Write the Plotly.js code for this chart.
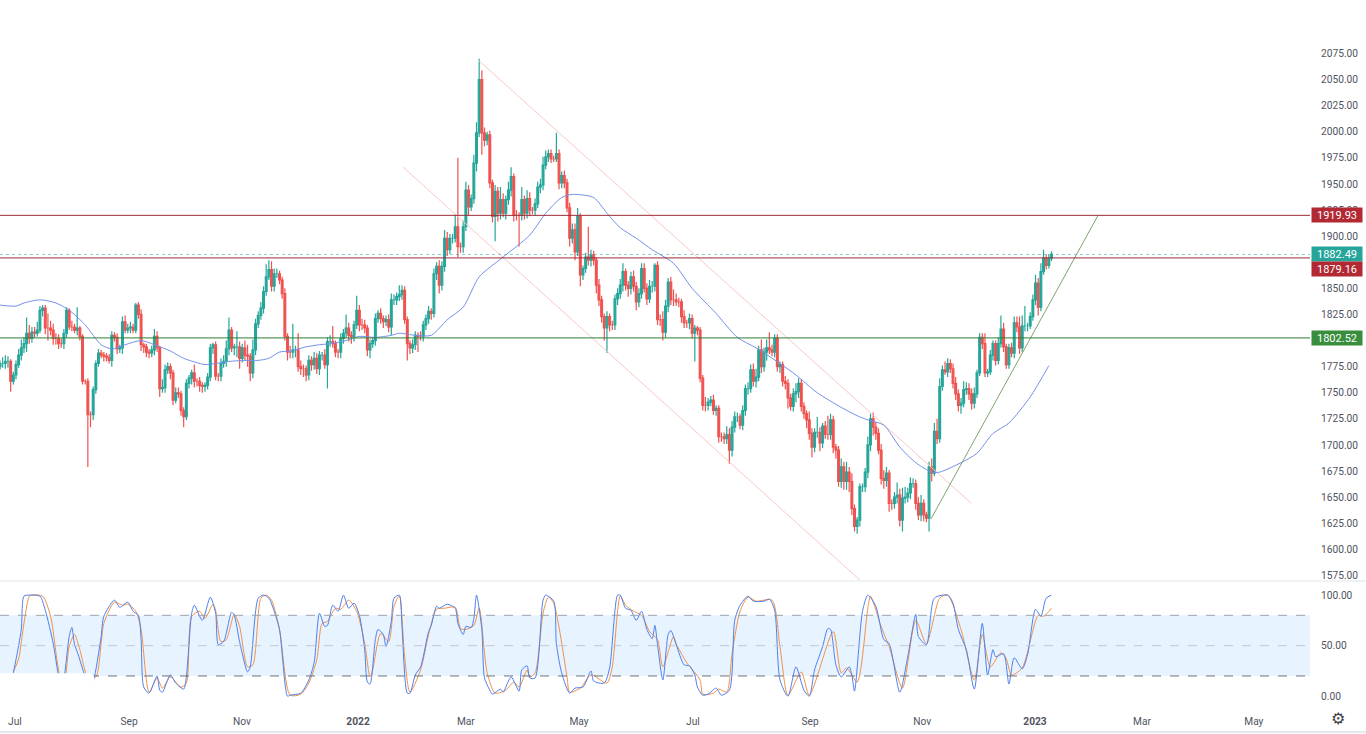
<!DOCTYPE html>
<html>
<head>
<meta charset="utf-8">
<script src="https://cdn.plot.ly/plotly-3.0.1.min.js"></script>
<style>html,body{margin:0;padding:0;background:#fff;overflow:hidden}#chart{width:1366px;height:734px}</style>
</head>
<body>
<div id="chart"></div>
<script>
const closes=[
1778,1778,1780,1780,1761,1767,1777,1786,1793,1797,1807,1802,1808,1807,1810,1829,1831,1812,1812,1810,
1802,1802,1797,1797,1807,1829,1813,1813,1810,1812,1804,1761,1761,1729,1729,1753,1778,1788,1786,1785,
1784,1781,1805,1803,1792,1793,1818,1810,1812,1813,1810,1834,1825,1796,1794,1789,1788,1791,1804,1793,
1754,1755,1772,1775,1769,1743,1750,1749,1733,1727,1759,1764,1769,1761,1761,1757,1756,1757,1765,1793,
1796,1766,1766,1778,1780,1792,1810,1793,1794,1794,1783,1793,1786,1785,1769,1791,1816,1824,1831,1847,
1861,1868,1852,1864,1864,1858,1845,1804,1789,1789,1791,1791,1775,1773,1773,1767,1781,1777,1783,1773,
1786,1786,1777,1799,1799,1797,1789,1789,1802,1807,1812,1805,1804,1815,1829,1815,1815,1812,1791,1797,
1800,1821,1826,1821,1818,1820,1813,1839,1839,1842,1844,1848,1820,1797,1793,1796,1805,1804,1804,1815,
1821,1828,1826,1864,1871,1853,1871,1898,1887,1898,1898,1909,1890,1890,1909,1944,1928,1936,1970,1999,
2050,1999,1992,1997,1951,1919,1943,1922,1935,1922,1935,1944,1957,1920,1920,1920,1935,1922,1936,1925,
1925,1931,1947,1949,1968,1976,1979,1974,1974,1979,1951,1958,1951,1927,1898,1906,1885,1919,1863,1869,
1880,1877,1882,1877,1853,1839,1823,1812,1823,1815,1815,1840,1845,1853,1866,1853,1850,1861,1852,1837,
1845,1869,1850,1840,1852,1852,1872,1820,1820,1808,1833,1856,1839,1839,1837,1837,1823,1817,1817,1821,
1807,1812,1810,1764,1738,1738,1741,1743,1733,1735,1708,1708,1706,1710,1695,1717,1727,1727,1719,1733,
1754,1754,1772,1761,1765,1791,1775,1789,1793,1791,1789,1802,1775,1777,1761,1759,1745,1737,1749,1751,
1759,1737,1730,1724,1711,1698,1712,1712,1702,1718,1710,1710,1724,1698,1695,1665,1679,1665,1674,1665,
1639,1622,1628,1660,1660,1674,1700,1725,1717,1711,1695,1668,1666,1673,1644,1644,1650,1652,1628,1649,
1650,1654,1663,1663,1644,1633,1644,1633,1630,1679,1673,1713,1706,1756,1772,1770,1778,1773,1759,1749,
1738,1740,1753,1754,1749,1740,1749,1769,1803,1797,1769,1770,1786,1797,1781,1797,1811,1794,1777,1793,
1788,1817,1813,1793,1814,1814,1814,1823,1839,1855,1832,1866,1879,1872,1879,1882.49];
const opens=[
1775,1778,1778,1780,1780,1761,1767,1777,1786,1793,1797,1807,1802,1808,1807,1810,1829,1831,1812,1812,
1810,1802,1802,1797,1797,1807,1829,1813,1813,1810,1812,1804,1761,1761,1729,1729,1753,1778,1788,1786,
1785,1784,1781,1805,1803,1792,1793,1818,1810,1812,1813,1810,1834,1825,1796,1794,1789,1788,1791,1804,
1793,1754,1755,1772,1775,1769,1743,1750,1749,1733,1727,1759,1764,1769,1761,1761,1757,1756,1757,1765,
1793,1796,1766,1766,1778,1780,1792,1810,1793,1794,1794,1783,1793,1786,1785,1769,1791,1816,1824,1831,
1847,1861,1868,1852,1864,1864,1858,1845,1804,1789,1789,1791,1791,1775,1773,1773,1767,1781,1777,1783,
1773,1786,1786,1777,1799,1799,1797,1789,1789,1802,1807,1812,1805,1804,1815,1829,1815,1815,1812,1791,
1797,1800,1821,1826,1821,1818,1820,1813,1839,1839,1842,1844,1848,1820,1797,1793,1796,1805,1804,1804,
1815,1821,1828,1826,1864,1871,1853,1871,1898,1887,1898,1898,1909,1890,1890,1909,1944,1928,1936,1970,
1999,2050,1999,1992,1997,1951,1919,1943,1922,1935,1922,1935,1944,1957,1920,1920,1920,1935,1922,1936,
1925,1925,1931,1947,1949,1968,1976,1979,1974,1974,1979,1951,1958,1951,1927,1898,1906,1885,1919,1863,
1869,1880,1877,1882,1877,1853,1839,1823,1812,1823,1815,1815,1840,1845,1853,1866,1853,1850,1861,1852,
1837,1845,1869,1850,1840,1852,1852,1872,1820,1820,1808,1833,1856,1839,1839,1837,1837,1823,1817,1817,
1821,1807,1812,1810,1764,1738,1738,1741,1743,1733,1735,1708,1708,1706,1710,1695,1717,1727,1727,1719,
1733,1754,1754,1772,1761,1765,1791,1775,1789,1793,1791,1789,1802,1775,1777,1761,1759,1745,1737,1749,
1751,1759,1737,1730,1724,1711,1698,1712,1712,1702,1718,1710,1710,1724,1698,1695,1665,1679,1665,1674,
1665,1639,1622,1628,1660,1660,1674,1700,1725,1717,1711,1695,1668,1666,1673,1644,1644,1650,1652,1628,
1649,1650,1654,1663,1663,1644,1633,1644,1633,1630,1679,1673,1713,1706,1756,1772,1770,1778,1773,1759,
1749,1738,1740,1753,1754,1749,1740,1749,1769,1803,1797,1769,1770,1786,1797,1781,1797,1811,1794,1777,
1793,1788,1817,1813,1793,1814,1814,1814,1823,1839,1855,1832,1866,1879,1872,1879];
const upperWick=[
3,6,6,5,2,3,4,6,8,6,15,8,5,5,8,4,3,3,14,7,
6,5,4,5,4,3,2,6,3,20,2,2,2,3,3,3,3,4,3,3,
3,3,4,3,4,3,5,6,4,5,3,2,3,5,2,3,3,4,7,5,
2,8,5,4,3,3,5,5,3,3,4,3,3,8,3,4,3,3,4,4,
2,3,3,5,6,8,12,3,3,15,5,4,7,10,3,10,5,4,6,5,
12,9,8,5,5,3,3,5,3,6,25,4,16,6,4,3,5,4,6,5,
4,3,6,4,6,15,3,3,5,4,13,5,4,4,14,5,6,5,3,4,
3,5,3,5,3,4,5,6,5,4,9,5,4,3,3,5,4,3,5,4,
4,5,3,5,4,6,5,8,6,4,4,12,66,4,6,8,5,4,8,10,
20,9,5,3,4,3,6,4,12,6,4,8,9,3,5,3,12,4,8,6,
3,5,5,6,8,6,4,4,3,20,4,4,5,4,5,6,6,8,3,3,
4,29,5,4,3,6,4,3,5,3,4,4,5,6,8,3,4,5,6,4,
5,5,5,5,6,5,2,4,5,8,6,4,5,10,6,4,3,6,3,5,
4,3,2,3,3,8,4,4,5,3,3,4,4,8,6,6,5,4,3,5,
4,6,5,6,8,4,10,4,8,15,5,4,4,3,3,5,4,4,5,8,
5,4,4,3,8,5,4,15,5,3,5,18,6,4,3,4,8,5,10,5,
8,4,3,3,3,4,8,5,6,5,5,6,8,6,3,4,5,12,6,10,
10,5,6,5,4,6,8,4,3,5,8,8,12,8,4,8,5,4,5,6,
4,5,8,6,5,5,6,3,4,4,10,3,5,3,3,6,13,6,3,4,
5,6,6,10,10,19,3,4,5,8,5,8,8,3,4,3];
const lowerWick=[
3,4,5,6,10,3,4,3,5,5,8,5,4,4,3,3,6,6,12,5,
6,6,5,4,5,4,3,4,3,5,4,3,3,50,12,5,4,3,3,5,
4,3,6,4,5,4,6,3,3,5,3,3,4,6,6,5,5,4,5,4,
8,4,5,4,6,5,3,4,5,10,3,5,6,6,5,6,6,5,4,4,
6,4,5,5,4,5,6,4,7,10,10,4,5,10,8,5,5,4,4,5,
4,3,5,5,4,4,5,4,8,6,6,7,5,6,8,6,5,6,5,5,
6,5,4,23,5,4,5,6,6,5,4,6,7,5,4,6,5,5,6,8,
4,5,4,5,6,4,5,8,5,5,4,5,4,16,6,5,5,15,4,5,
5,5,6,4,6,8,5,5,6,4,5,4,10,6,6,4,8,4,5,8,
4,21,6,5,5,6,24,8,6,4,6,5,6,6,5,30,5,6,5,6,
4,5,4,6,5,4,5,4,3,3,6,5,5,4,8,5,8,4,11,5,
4,5,6,5,8,6,6,12,24,6,5,5,6,5,6,5,8,6,5,8,
5,5,4,6,4,6,5,5,6,8,5,6,5,6,4,5,6,5,5,6,
5,27,5,4,5,6,5,4,4,5,6,5,5,5,13,6,5,5,4,5,
5,6,4,5,6,4,6,5,8,4,4,5,5,6,5,6,10,4,5,8,
6,5,5,8,6,10,5,5,8,5,4,5,5,6,8,5,6,8,8,10,
6,5,7,6,5,5,6,6,8,6,4,6,8,6,8,6,5,6,6,11,
5,5,6,4,6,5,6,6,4,13,8,3,5,4,4,3,5,4,5,6,
6,8,4,5,6,6,5,4,3,5,4,4,3,5,5,4,4,5,4,4,
4,5,5,6,4,5,5,3,4,5,8,4,3,4,3,3];

const smaBars=[0,6,9,15,21,26,32,38,42,47,53,58,64,69,77,81,86,92,97,101,105,109,115,120,124,130,135,141,147,150,156,162,168,174,180,189,199,205,211,215,223,228,233,239,245,253,260,269,277,284,293,299,307,316,322,326,332,338,344,350,353,361,367,373,379,387,394];
const smaValues=[1834,1833,1836,1839,1836,1829,1815,1796,1792,1796,1800,1796,1790,1783,1777,1778,1780,1781,1781,1783,1789,1790,1794,1796,1797,1800,1804,1803,1805,1807,1805,1805,1820,1832,1861,1880,1901,1922,1937,1940,1937,1922,1908,1898,1887,1874,1850,1826,1803,1793,1778,1767,1750,1736,1728,1724,1719,1698,1683,1674,1674,1683,1692,1711,1721,1746,1776];

const kBars=[5,6,8,9,11,15,17,20,22,23,24,26,27,28,29,32,34,36,37,38,39,43,45,48,50,52,53,54,56,59,60,61,64,66,69,70,72,73,76,79,81,82,84,87,88,90,93,94,97,99,101,103,105,108,109,113,116,118,120,122,123,125,127,129,131,133,135,137,138,139,141,142,144,145,147,148,150,151,153,154,156,158,161,162,164,165,168,171,172,174,175,177,178,179,181,182,184,185,188,189,192,195,196,198,199,201,204,205,208,209,211,214,216,219,222,223,227,229,232,233,235,237,239,241,243,245,246,247,249,251,252,254,257,259,261,262,264,266,269,271,274,276,278,281,283,287,289,291,293,296,299,302,304,306,309,311,312,314,316,319,320,321,324,326,329,332,334,338,341,344,345,348,351,356,358,360,363,366,369,371,373,374,377,379,381,384,386,389,391,393,395];
const kValues=[23,36,66,99,100,99,85,52,19,6,16,59,68,51,44,19,3,26,42,59,79,95,88,93,84,80,56,9,3,20,6,4,21,13,7,19,82,90,75,98,82,51,54,83,80,54,24,29,97,100,97,84,66,0,1,3,16,33,82,69,70,90,84,100,87,92,80,46,14,12,56,66,61,49,74,97,100,69,3,3,21,29,64,70,89,87,91,87,72,61,69,68,77,100,66,18,6,2,7,4,19,5,26,30,18,18,95,100,94,52,23,3,8,9,25,15,13,28,100,100,87,85,75,84,66,57,70,51,16,61,65,51,31,30,21,9,1,2,8,1,6,75,90,99,94,94,96,85,16,0,29,6,0,26,49,67,66,31,19,29,21,5,84,100,89,56,52,4,39,81,59,51,97,100,92,66,46,7,72,21,46,39,42,12,38,27,41,86,79,97,100];
const dBars=[5,7,9,11,12,16,19,22,24,26,28,30,33,36,38,39,43,46,48,51,53,56,59,61,64,68,70,72,75,77,80,81,83,85,88,90,93,95,98,100,102,105,109,113,116,119,121,123,126,128,131,134,137,139,140,143,146,148,150,152,154,158,161,164,167,171,173,175,178,180,183,186,190,193,195,198,199,201,204,206,208,213,214,218,222,228,230,233,235,238,241,244,247,249,253,254,258,263,264,268,270,273,275,278,281,284,290,293,296,301,304,313,316,318,322,326,327,331,334,339,344,348,353,356,361,366,369,372,376,378,380,384,390,392,395];
const dValues=[24,37,72,99,100,99,79,26,9,49,61,46,19,19,52,72,93,90,91,84,66,4,18,8,19,9,13,79,84,77,91,85,54,56,81,69,29,31,97,100,95,66,1,2,13,36,72,74,87,86,95,84,52,19,26,62,54,89,99,39,4,26,61,86,87,88,67,66,70,87,23,3,6,14,9,26,19,23,82,98,92,19,4,8,21,13,29,99,90,84,80,64,56,29,59,52,33,16,2,3,7,4,42,84,98,94,95,49,1,24,1,64,23,28,14,87,99,69,49,8,75,52,97,100,66,16,61,29,43,37,21,28,80,79,87];

const channelUpperBars=[179.6,364.8], channelUpperPrices=[2068.7,1644.3];
const channelLowerBars=[151.4,323], channelLowerPrices=[1966.2,1570.6];
const riseBars=[349.7,412.5], risePrices=[1629,1920];

const levels=[1919.93,1879.16,1802.52];
const lastPrice=1882.49;
const priceTicks=[1575,1600,1625,1650,1675,1700,1725,1750,1775,1825,1850,1900,1925,1950,1975,2000,2025,2050,2075];
const stochTicks=[0,50,100];
const timeTickBars=[5.6,48.5,90.9,134.5,175,217.5,260.3,304.3,346.4,388.8,429,471];
const timeTickText=['Jul','Sep','Nov','<b>2022</b>','Mar','May','Jul','Sep','Nov','<b>2023</b>','Mar','May'];

const RED='#b22833',GREEN='#388e3c',TEAL='#26a69a';
const font='Roboto, "Noto Sans", sans-serif';
const bars=closes.map((_,i)=>i);
const highs=closes.map((c,i)=>Math.max(c,opens[i])+upperWick[i]);
const lows=closes.map((c,i)=>Math.min(c,opens[i])-lowerWick[i]);

const line=(x,y,color,yaxis,smooth)=>({type:'scatter',mode:'lines',x,y,yaxis:yaxis||'y',xaxis:'x',hoverinfo:'skip',showlegend:false,line:Object.assign({color,width:1},smooth?{shape:'spline',smoothing:0.7}:{})});
const traces=[
 line(channelUpperBars,channelUpperPrices,'#f7c9c5'),
 line(channelLowerBars,channelLowerPrices,'#f7c9c5'),
 {type:'candlestick',x:bars,open:opens,high:highs,low:lows,close:closes,xaxis:'x',yaxis:'y',showlegend:false,hoverinfo:'skip',whiskerwidth:0,
  increasing:{line:{color:'#26a69a',width:1.2},fillcolor:'#26a69a'},
  decreasing:{line:{color:'#ef5350',width:1.2},fillcolor:'#ef5350'}},
 line(smaBars,smaValues,'#7390ea','y',true),
 line(riseBars,risePrices,'#7fa36e'),
 line(dBars,dValues,'#f0914a','y2',true),
 line(kBars,kValues,'#4f7fee','y2',true)
];

const hline=(y,color,dash,yref,w)=>({type:'line',xref:'paper',x0:0,x1:1,yref:yref||'y',y0:y,y1:y,line:{color,width:w||1,dash:dash||'solid'},layer:'above'});
const shapes=[
 {type:'rect',xref:'paper',x0:0,x1:1,yref:'y2',y0:20,y1:80,fillcolor:'rgba(33,150,243,0.11)',line:{width:0},layer:'below'},
 hline(80,'#9fa3ad','dash','y2'),hline(50,'#c5c8ce','dash','y2'),hline(20,'#6f727c','dash','y2'),
 hline(levels[0],'#9c2b36'),hline(lastPrice,'rgba(38,166,154,0.55)','dot'),hline(levels[1],'#9c2b36'),hline(levels[2],'#2f7d33'),
 {type:'path',xref:'x',yref:'y2',path:'M0,22.6 L33,22.6 Q35.6,22.6 35.6,16 L35.6,-2 Q35.6,-7 31,-7 L4,-7 Q0,-7 0,-2 Z',fillcolor:'#ffffff',line:{width:0},layer:'above'},
 {type:'line',xref:'paper',yref:'paper',x0:0,x1:1.0427,y0:0.1794,y1:0.1794,line:{color:'#e0e3eb',width:1},layer:'above'},
 {type:'line',xref:'paper',yref:'paper',x0:0,x1:1.0427,y0:-0.0339,y1:-0.0339,line:{color:'#e6e8ee',width:2},layer:'above'}
];
const tag=(text,y,bg,yshift)=>({xref:'paper',x:1,xanchor:'left',xshift:1,yref:'y',y,yanchor:'middle',yshift:yshift||0,text,showarrow:false,bgcolor:bg,width:50,height:14,borderpad:0,align:'center',font:{family:font,size:11,color:'#fff'}});
const annotations=[
 tag('1919.93',levels[0],RED),
 tag('1882.49',lastPrice,TEAL),
 tag('1879.16',levels[1],RED,-11),
 tag('1802.52',levels[2],GREEN),
 {xref:'paper',yref:'paper',x:1.0214,y:-0.0155,xanchor:'center',yanchor:'middle',text:'⚙',showarrow:false,font:{family:'DejaVu Sans',size:16,color:'#3c3f48'}}
];

const tickFont={family:font,size:10.2,color:'#50535e'};
const layout={
 width:1366,height:734,margin:{l:0,r:56,t:0,b:26,pad:0},paper_bgcolor:'#fff',plot_bgcolor:'#fff',showlegend:false,dragmode:false,boxgap:0.05,
 xaxis:{anchor:'y2',range:[0,492.1],rangeslider:{visible:false},tickmode:'array',tickvals:timeTickBars,ticktext:timeTickText,showgrid:false,zeroline:false,showline:false,ticks:'outside',ticklen:4,tickcolor:'rgba(0,0,0,0)',tickfont:tickFont},
 yaxis:{domain:[0.1794,1],range:[1569.7,2126.2],side:'right',anchor:'x',tickmode:'array',tickvals:priceTicks,ticktext:priceTicks.map(v=>v.toFixed(2)),showgrid:false,zeroline:false,showline:false,ticks:'outside',ticklen:8,tickcolor:'rgba(0,0,0,0)',tickfont:tickFont},
 yaxis2:{domain:[0,0.178],range:[-11.7,113],side:'right',anchor:'x',tickmode:'array',tickvals:stochTicks,ticktext:stochTicks.map(v=>v.toFixed(2)),showgrid:false,zeroline:false,showline:false,ticks:'outside',ticklen:8,tickcolor:'rgba(0,0,0,0)',tickfont:tickFont},
 shapes,annotations
};
Plotly.newPlot('chart',traces,layout,{displayModeBar:false,staticPlot:true});
</script>
</body>
</html>
